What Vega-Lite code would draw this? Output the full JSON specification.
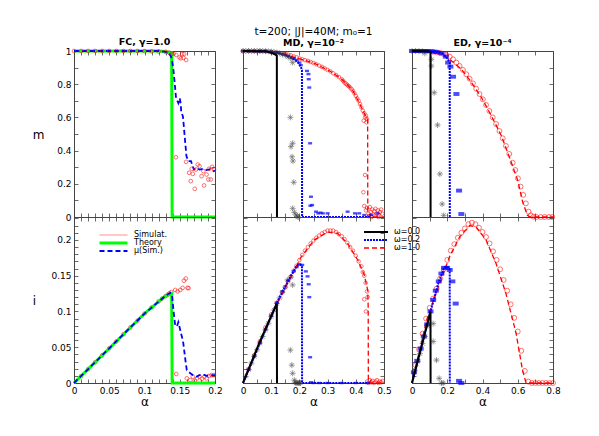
{
"$schema":"https://vega.github.io/schema/vega-lite/v6.json",
"padding":{"left":31,"top":26,"right":5,"bottom":5},
"bounds":"flush",
"columns":3,
"spacing":{"row":0,"column":28},
"resolve":{"scale":{"color":"independent","strokeDash":"independent","strokeWidth":"independent"},"legend":{"color":"independent","strokeDash":"independent","strokeWidth":"independent"}},
"concat":[
 {"width":141,"height":166,
  "title":{"text":"FC, γ=1.0","fontSize":9.5,"fontWeight":"bold","offset":-1},
  "layer":[
   {"data":{"name":"fcmG"},"mark":{"type":"line","color":"#00ff00","strokeWidth":3},
    "encoding":{"x":{"field":"a","type":"quantitative","scale":{"domain":[0,0.2],"nice":false,"zero":false},"axis":{"orient":"bottom","values":[0,0.01,0.02,0.03,0.04,0.05,0.06,0.07,0.08,0.09,0.1,0.11,0.12,0.13,0.14,0.15,0.16,0.17,0.18,0.19,0.2],"labels":false,"title":null,"tickSize":-4}},
     "y":{"field":"v","type":"quantitative","scale":{"domain":[0,1],"nice":false},"axis":{"orient":"left","values":[0,0.1,0.2,0.3,0.4,0.5,0.6,0.7,0.8,0.9,1],"labelExpr":"abs(datum.value*5-round(datum.value*5))<0.001 ? format(datum.value,'~g') : ''","title":"m","tickSize":-4,"labelPadding":7,"labelFlush":false,"labelOverlap":false,"titleAngle":0,"titleX":-36,"titleY":83,"titleAlign":"center","titleBaseline":"middle"}}}},
   {"data":{"name":"fcmB"},"mark":{"type":"line","color":"#0000ff","strokeWidth":1.8,"strokeDash":[5,3]},
    "encoding":{"x":{"field":"a","type":"quantitative","scale":{"domain":[0,0.2],"nice":false,"zero":false},"axis":{"orient":"top","values":[0,0.01,0.02,0.03,0.04,0.05,0.06,0.07,0.08,0.09,0.1,0.11,0.12,0.13,0.14,0.15,0.16,0.17,0.18,0.19,0.2],"labels":false,"title":null,"tickSize":-4}},
     "y":{"field":"v","type":"quantitative","scale":{"domain":[0,1],"nice":false},"axis":{"orient":"right","values":[0,0.1,0.2,0.3,0.4,0.5,0.6,0.7,0.8,0.9,1],"labels":false,"title":null,"tickSize":-4}}}},
   {"data":{"name":"fcmR"},"mark":{"type":"point","shape":"circle","filled":false,"color":"#ff0000","size":14,"strokeWidth":0.8},
    "encoding":{"x":{"field":"a","type":"quantitative","scale":{"domain":[0,0.2],"nice":false,"zero":false},"axis":null},
     "y":{"field":"v","type":"quantitative","scale":{"domain":[0,1],"nice":false},"axis":null}}}
  ],
  "resolve":{"axis":{"x":"independent","y":"independent"}}},
 {"width":141,"height":166,
  "title":{"text":"t=200; |J|=40M; m₀=1","subtitle":"MD, γ=10⁻²","fontSize":10.5,"fontWeight":"normal","subtitleFontSize":9.5,"subtitleFontWeight":"bold","subtitleColor":"#000","subtitleFont":"DejaVu Sans","subtitlePadding":1,"offset":-1},
  "layer":[
   {"data":{"name":"mdmR"},"mark":{"type":"point","shape":"circle","filled":false,"color":"#ff0000","size":13,"strokeWidth":0.8},
    "encoding":{"x":{"field":"a","type":"quantitative","scale":{"domain":[0,0.5],"nice":false,"zero":false},"axis":{"orient":"bottom","values":[0,0.05,0.1,0.15,0.2,0.25,0.3,0.35,0.4,0.45,0.5],"labels":false,"title":null,"tickSize":-4}},
     "y":{"field":"v","type":"quantitative","scale":{"domain":[0,1],"nice":false},"axis":{"orient":"left","values":[0,0.1,0.2,0.3,0.4,0.5,0.6,0.7,0.8,0.9,1],"labels":false,"title":null,"tickSize":-4}}}},
   {"data":{"name":"mdmRL"},"mark":{"type":"line","color":"#ff0000","strokeWidth":1.3,"strokeDash":[5,3]},
    "encoding":{"x":{"field":"a","type":"quantitative","scale":{"domain":[0,0.5],"nice":false,"zero":false},"axis":{"orient":"top","values":[0,0.05,0.1,0.15,0.2,0.25,0.3,0.35,0.4,0.45,0.5],"labels":false,"title":null,"tickSize":-4}},
     "y":{"field":"v","type":"quantitative","scale":{"domain":[0,1],"nice":false},"axis":{"orient":"right","values":[0,0.1,0.2,0.3,0.4,0.5,0.6,0.7,0.8,0.9,1],"labels":false,"title":null,"tickSize":-4}}}},
   {"data":{"name":"mdmBL"},"mark":{"type":"line","color":"#0000ff","strokeWidth":2,"strokeDash":[2,1]},
    "encoding":{"x":{"field":"a","type":"quantitative","scale":{"domain":[0,0.5],"nice":false,"zero":false},"axis":null},"y":{"field":"v","type":"quantitative","scale":{"domain":[0,1],"nice":false},"axis":null}}},
   {"data":{"name":"mdmBS"},"mark":{"type":"point","shape":"M-1,-0.6H1V0.6H-1Z","filled":true,"color":"#0000ff","size":16},
    "encoding":{"x":{"field":"a","type":"quantitative","scale":{"domain":[0,0.5],"nice":false,"zero":false},"axis":null},"y":{"field":"v","type":"quantitative","scale":{"domain":[0,1],"nice":false},"axis":null}}},
   {"data":{"name":"mdmK"},"mark":{"type":"point","shape":"M-1,0H1M0,-1V1M-0.7,-0.7L0.7,0.7M-0.7,0.7L0.7,-0.7","filled":false,"color":"#333333","size":36,"strokeWidth":0.7},
    "encoding":{"x":{"field":"a","type":"quantitative","scale":{"domain":[0,0.5],"nice":false,"zero":false},"axis":null},"y":{"field":"v","type":"quantitative","scale":{"domain":[0,1],"nice":false},"axis":null}}},
   {"data":{"name":"mdmKL"},"mark":{"type":"line","color":"#000000","strokeWidth":2},
    "encoding":{"x":{"field":"a","type":"quantitative","scale":{"domain":[0,0.5],"nice":false,"zero":false},"axis":null},"y":{"field":"v","type":"quantitative","scale":{"domain":[0,1],"nice":false},"axis":null}}}
  ],
  "resolve":{"axis":{"x":"independent","y":"independent"}}},
 {"width":141,"height":166,
  "title":{"text":"ED, γ=10⁻⁴","fontSize":9.5,"fontWeight":"bold","offset":-1},
  "layer":[
   {"data":{"name":"edmR"},"mark":{"type":"point","shape":"circle","filled":false,"color":"#ff0000","size":24,"strokeWidth":0.8},
    "encoding":{"x":{"field":"a","type":"quantitative","scale":{"domain":[0,0.8],"nice":false,"zero":false},"axis":{"orient":"bottom","values":[0,0.1,0.2,0.3,0.4,0.5,0.6,0.7,0.8],"labels":false,"title":null,"tickSize":-4}},
     "y":{"field":"v","type":"quantitative","scale":{"domain":[0,1],"nice":false},"axis":{"orient":"left","values":[0,0.1,0.2,0.3,0.4,0.5,0.6,0.7,0.8,0.9,1],"labels":false,"title":null,"tickSize":-4}}}},
   {"data":{"name":"edmRL"},"mark":{"type":"line","color":"#ff0000","strokeWidth":1.3,"strokeDash":[5,3]},
    "encoding":{"x":{"field":"a","type":"quantitative","scale":{"domain":[0,0.8],"nice":false,"zero":false},"axis":{"orient":"top","values":[0,0.1,0.2,0.3,0.4,0.5,0.6,0.7,0.8],"labels":false,"title":null,"tickSize":-4}},
     "y":{"field":"v","type":"quantitative","scale":{"domain":[0,1],"nice":false},"axis":{"orient":"right","values":[0,0.1,0.2,0.3,0.4,0.5,0.6,0.7,0.8,0.9,1],"labels":false,"title":null,"tickSize":-4}}}},
   {"data":{"name":"edmBL"},"mark":{"type":"line","color":"#0000ff","strokeWidth":2,"strokeDash":[2,1]},
    "encoding":{"x":{"field":"a","type":"quantitative","scale":{"domain":[0,0.8],"nice":false,"zero":false},"axis":null},"y":{"field":"v","type":"quantitative","scale":{"domain":[0,1],"nice":false},"axis":null}}},
   {"data":{"name":"edmBS"},"mark":{"type":"point","shape":"M-1,-0.65H1V0.65H-1Z","filled":true,"color":"#0000ff","size":36},
    "encoding":{"x":{"field":"a","type":"quantitative","scale":{"domain":[0,0.8],"nice":false,"zero":false},"axis":null},"y":{"field":"v","type":"quantitative","scale":{"domain":[0,1],"nice":false},"axis":null}}},
   {"data":{"name":"edmK"},"mark":{"type":"point","shape":"M-1,0H1M0,-1V1M-0.7,-0.7L0.7,0.7M-0.7,0.7L0.7,-0.7","filled":false,"color":"#333333","size":36,"strokeWidth":0.7},
    "encoding":{"x":{"field":"a","type":"quantitative","scale":{"domain":[0,0.8],"nice":false,"zero":false},"axis":null},"y":{"field":"v","type":"quantitative","scale":{"domain":[0,1],"nice":false},"axis":null}}},
   {"data":{"name":"edmKL"},"mark":{"type":"line","color":"#000000","strokeWidth":2},
    "encoding":{"x":{"field":"a","type":"quantitative","scale":{"domain":[0,0.8],"nice":false,"zero":false},"axis":null},"y":{"field":"v","type":"quantitative","scale":{"domain":[0,1],"nice":false},"axis":null}}}
  ],
  "resolve":{"axis":{"x":"independent","y":"independent"}}},
 {"width":141,"height":166,
  "layer":[
   {"data":{"name":"fciR"},"mark":{"type":"point","shape":"circle","filled":false,"color":"#ff0000","size":14,"strokeWidth":0.8},
    "encoding":{"x":{"field":"a","type":"quantitative","scale":{"domain":[0,0.2],"nice":false,"zero":false},"axis":{"orient":"bottom","values":[0,0.01,0.02,0.03,0.04,0.05,0.06,0.07,0.08,0.09,0.1,0.11,0.12,0.13,0.14,0.15,0.16,0.17,0.18,0.19,0.2],"labelExpr":"abs(datum.value*20-round(datum.value*20))<0.001 ? format(datum.value,'~g') : ''","title":"α","tickSize":-4,"labelPadding":7,"labelFlush":false,"labelOverlap":false,"titlePadding":1}},
     "y":{"field":"v","type":"quantitative","scale":{"domain":[0,0.232],"nice":false},"axis":{"orient":"left","values":[0,0.01,0.02,0.03,0.04,0.05,0.06,0.07,0.08,0.09,0.1,0.11,0.12,0.13,0.14,0.15,0.16,0.17,0.18,0.19,0.2,0.21,0.22,0.23],"labelExpr":"abs(datum.value*20-round(datum.value*20))<0.001 ? format(datum.value,'~g') : ''","title":"i","tickSize":-4,"labelPadding":7,"labelFlush":false,"labelOverlap":false,"titleAngle":0,"titleX":-40,"titleY":83,"titleAlign":"center","titleBaseline":"middle"}}}},
   {"data":{"name":"fciL"},"mark":{"type":"line"},
    "encoding":{"x":{"field":"a","type":"quantitative","scale":{"domain":[0,0.2],"nice":false,"zero":false},"axis":{"orient":"top","values":[0,0.01,0.02,0.03,0.04,0.05,0.06,0.07,0.08,0.09,0.1,0.11,0.12,0.13,0.14,0.15,0.16,0.17,0.18,0.19,0.2],"labels":false,"title":null,"tickSize":-4}},
     "y":{"field":"v","type":"quantitative","scale":{"domain":[0,0.232],"nice":false},"axis":{"orient":"right","values":[0,0.01,0.02,0.03,0.04,0.05,0.06,0.07,0.08,0.09,0.1,0.11,0.12,0.13,0.14,0.15,0.16,0.17,0.18,0.19,0.2,0.21,0.22,0.23],"labels":false,"title":null,"tickSize":-4}},
     "color":{"field":"s","type":"nominal","scale":{"domain":["Simulat.","Theory","μ(Sim.)"],"range":["#ff6666","#00ff00","#0000ff"]},"legend":{"orient":"none","legendX":24,"legendY":14,"title":null,"symbolType":"stroke","symbolSize":784,"clipHeight":8,"rowPadding":0,"labelFontSize":8,"labelOffset":5}},
     "strokeDash":{"field":"s","type":"nominal","scale":{"domain":["Simulat.","Theory","μ(Sim.)"],"range":[[1,0],[1,0],[5,3]]},"legend":{"orient":"none","legendX":24,"legendY":14,"title":null,"symbolType":"stroke","symbolSize":784,"clipHeight":8,"rowPadding":0,"labelFontSize":8,"labelOffset":5}},
     "strokeWidth":{"field":"s","type":"nominal","scale":{"type":"ordinal","domain":["Simulat.","Theory","μ(Sim.)"],"range":[0.8,3,1.8]},"legend":{"orient":"none","legendX":24,"legendY":14,"title":null,"symbolType":"stroke","symbolSize":784,"clipHeight":8,"rowPadding":0,"labelFontSize":8,"labelOffset":5}}}}
  ],
  "resolve":{"axis":{"x":"independent","y":"independent"}}},
 {"width":141,"height":166,
  "layer":[
   {"data":{"name":"mdiR"},"mark":{"type":"point","shape":"circle","filled":false,"color":"#ff0000","size":13,"strokeWidth":0.8},
    "encoding":{"x":{"field":"a","type":"quantitative","scale":{"domain":[0,0.5],"nice":false,"zero":false},"axis":{"orient":"bottom","values":[0,0.05,0.1,0.15,0.2,0.25,0.3,0.35,0.4,0.45,0.5],"labelExpr":"abs(datum.value*10-round(datum.value*10))<0.001 ? format(datum.value,'~g') : ''","title":"α","tickSize":-4,"labelPadding":7,"labelFlush":false,"labelOverlap":false,"titlePadding":1}},
     "y":{"field":"v","type":"quantitative","scale":{"domain":[0,0.232],"nice":false},"axis":{"orient":"left","values":[0,0.01,0.02,0.03,0.04,0.05,0.06,0.07,0.08,0.09,0.1,0.11,0.12,0.13,0.14,0.15,0.16,0.17,0.18,0.19,0.2,0.21,0.22,0.23],"labels":false,"title":null,"tickSize":-4}}}},
   {"data":{"name":"mdiBS"},"mark":{"type":"point","shape":"M-1,-0.6H1V0.6H-1Z","filled":true,"color":"#0000ff","size":16},
    "encoding":{"x":{"field":"a","type":"quantitative","scale":{"domain":[0,0.5],"nice":false,"zero":false},"axis":{"orient":"top","values":[0,0.05,0.1,0.15,0.2,0.25,0.3,0.35,0.4,0.45,0.5],"labels":false,"title":null,"tickSize":-4}},
     "y":{"field":"v","type":"quantitative","scale":{"domain":[0,0.232],"nice":false},"axis":{"orient":"right","values":[0,0.01,0.02,0.03,0.04,0.05,0.06,0.07,0.08,0.09,0.1,0.11,0.12,0.13,0.14,0.15,0.16,0.17,0.18,0.19,0.2,0.21,0.22,0.23],"labels":false,"title":null,"tickSize":-4}}}},
   {"data":{"name":"mdiK"},"mark":{"type":"point","shape":"M-1,0H1M0,-1V1M-0.7,-0.7L0.7,0.7M-0.7,0.7L0.7,-0.7","filled":false,"color":"#333333","size":36,"strokeWidth":0.7},
    "encoding":{"x":{"field":"a","type":"quantitative","scale":{"domain":[0,0.5],"nice":false,"zero":false},"axis":null},"y":{"field":"v","type":"quantitative","scale":{"domain":[0,0.232],"nice":false},"axis":null}}},
   {"data":{"name":"mdiL"},"mark":{"type":"line"},
    "encoding":{"x":{"field":"a","type":"quantitative","scale":{"domain":[0,0.5],"nice":false,"zero":false},"axis":null},"y":{"field":"v","type":"quantitative","scale":{"domain":[0,0.232],"nice":false},"axis":null},
     "color":{"field":"w","type":"nominal","scale":{"domain":["ω=0.0","ω=0.2","ω=1.0"],"range":["#000000","#0000ff","#ff0000"]},"legend":{"orient":"none","legendX":120,"legendY":11,"title":null,"symbolType":"stroke","symbolSize":576,"clipHeight":8,"rowPadding":0,"labelFontSize":8,"labelOffset":5}},
     "strokeDash":{"field":"w","type":"nominal","scale":{"domain":["ω=0.0","ω=0.2","ω=1.0"],"range":[[1,0],[2,1],[5,3]]},"legend":{"orient":"none","legendX":120,"legendY":11,"title":null,"symbolType":"stroke","symbolSize":576,"clipHeight":8,"rowPadding":0,"labelFontSize":8,"labelOffset":5}},
     "strokeWidth":{"field":"w","type":"nominal","scale":{"type":"ordinal","domain":["ω=0.0","ω=0.2","ω=1.0"],"range":[2,2,1.3]},"legend":{"orient":"none","legendX":120,"legendY":11,"title":null,"symbolType":"stroke","symbolSize":576,"clipHeight":8,"rowPadding":0,"labelFontSize":8,"labelOffset":5}}}}
  ],
  "resolve":{"axis":{"x":"independent","y":"independent"}}},
 {"width":141,"height":166,
  "layer":[
   {"data":{"name":"ediR"},"mark":{"type":"point","shape":"circle","filled":false,"color":"#ff0000","size":24,"strokeWidth":0.8},
    "encoding":{"x":{"field":"a","type":"quantitative","scale":{"domain":[0,0.8],"nice":false,"zero":false},"axis":{"orient":"bottom","values":[0,0.1,0.2,0.3,0.4,0.5,0.6,0.7,0.8],"labelExpr":"abs(datum.value*5-round(datum.value*5))<0.001 ? format(datum.value,'~g') : ''","title":"α","tickSize":-4,"labelPadding":7,"labelFlush":false,"labelOverlap":false,"titlePadding":1}},
     "y":{"field":"v","type":"quantitative","scale":{"domain":[0,0.232],"nice":false},"axis":{"orient":"left","values":[0,0.01,0.02,0.03,0.04,0.05,0.06,0.07,0.08,0.09,0.1,0.11,0.12,0.13,0.14,0.15,0.16,0.17,0.18,0.19,0.2,0.21,0.22,0.23],"labels":false,"title":null,"tickSize":-4}}}},
   {"data":{"name":"ediRL"},"mark":{"type":"line","color":"#ff0000","strokeWidth":1.3,"strokeDash":[5,3]},
    "encoding":{"x":{"field":"a","type":"quantitative","scale":{"domain":[0,0.8],"nice":false,"zero":false},"axis":{"orient":"top","values":[0,0.1,0.2,0.3,0.4,0.5,0.6,0.7,0.8],"labels":false,"title":null,"tickSize":-4}},
     "y":{"field":"v","type":"quantitative","scale":{"domain":[0,0.232],"nice":false},"axis":{"orient":"right","values":[0,0.01,0.02,0.03,0.04,0.05,0.06,0.07,0.08,0.09,0.1,0.11,0.12,0.13,0.14,0.15,0.16,0.17,0.18,0.19,0.2,0.21,0.22,0.23],"labels":false,"title":null,"tickSize":-4}}}},
   {"data":{"name":"ediBL"},"mark":{"type":"line","color":"#0000ff","strokeWidth":2,"strokeDash":[2,1]},
    "encoding":{"x":{"field":"a","type":"quantitative","scale":{"domain":[0,0.8],"nice":false,"zero":false},"axis":null},"y":{"field":"v","type":"quantitative","scale":{"domain":[0,0.232],"nice":false},"axis":null}}},
   {"data":{"name":"ediBS"},"mark":{"type":"point","shape":"M-1,-0.65H1V0.65H-1Z","filled":true,"color":"#0000ff","size":36},
    "encoding":{"x":{"field":"a","type":"quantitative","scale":{"domain":[0,0.8],"nice":false,"zero":false},"axis":null},"y":{"field":"v","type":"quantitative","scale":{"domain":[0,0.232],"nice":false},"axis":null}}},
   {"data":{"name":"ediK"},"mark":{"type":"point","shape":"M-1,0H1M0,-1V1M-0.7,-0.7L0.7,0.7M-0.7,0.7L0.7,-0.7","filled":false,"color":"#333333","size":36,"strokeWidth":0.7},
    "encoding":{"x":{"field":"a","type":"quantitative","scale":{"domain":[0,0.8],"nice":false,"zero":false},"axis":null},"y":{"field":"v","type":"quantitative","scale":{"domain":[0,0.232],"nice":false},"axis":null}}},
   {"data":{"name":"ediKL"},"mark":{"type":"line","color":"#000000","strokeWidth":2},
    "encoding":{"x":{"field":"a","type":"quantitative","scale":{"domain":[0,0.8],"nice":false,"zero":false},"axis":null},"y":{"field":"v","type":"quantitative","scale":{"domain":[0,0.232],"nice":false},"axis":null}}}
  ],
  "resolve":{"axis":{"x":"independent","y":"independent"}}}
],
"datasets":{
"fcmG":[{"a":0,"v":1},{"a":0.12,"v":1},{"a":0.13,"v":0.996},{"a":0.1385,"v":0.99},{"a":0.1392,"v":0},{"a":0.2,"v":0}],
"fcmB":[{"a":0,"v":1},{"a":0.12,"v":1},{"a":0.13,"v":0.995},{"a":0.134,"v":0.99},{"a":0.137,"v":0.97},{"a":0.139,"v":0.95},{"a":0.141,"v":0.886},{"a":0.143,"v":0.8},{"a":0.1445,"v":0.726},{"a":0.146,"v":0.706},{"a":0.148,"v":0.686},{"a":0.15,"v":0.716},{"a":0.1515,"v":0.68},{"a":0.152,"v":0.636},{"a":0.1545,"v":0.606},{"a":0.1555,"v":0.56},{"a":0.157,"v":0.486},{"a":0.1595,"v":0.366},{"a":0.1625,"v":0.336},{"a":0.166,"v":0.336},{"a":0.168,"v":0.31},{"a":0.17,"v":0.286},{"a":0.174,"v":0.296},{"a":0.178,"v":0.286},{"a":0.183,"v":0.29},{"a":0.188,"v":0.283},{"a":0.193,"v":0.288},{"a":0.198,"v":0.276},{"a":0.2,"v":0.28}],
"fcmR":[{"a":0,"v":1},{"a":0.01,"v":1},{"a":0.02,"v":1},{"a":0.03,"v":1},{"a":0.04,"v":1},{"a":0.05,"v":1},{"a":0.06,"v":1},{"a":0.07,"v":1},{"a":0.08,"v":1},{"a":0.09,"v":1},{"a":0.1,"v":0.999},{"a":0.11,"v":0.998},{"a":0.12,"v":0.997},{"a":0.13,"v":0.995},{"a":0.135,"v":0.99},{"a":0.1412,"v":0.982},{"a":0.145,"v":0.976},{"a":0.1496,"v":0.962},{"a":0.1515,"v":0.956},{"a":0.1534,"v":0.982},{"a":0.1553,"v":0.958},{"a":0.1562,"v":0.982},{"a":0.159,"v":0.946},{"a":0.1445,"v":0.36},{"a":0.159,"v":0.332},{"a":0.1633,"v":0.266},{"a":0.1656,"v":0.216},{"a":0.1713,"v":0.17},{"a":0.1685,"v":0.26},{"a":0.1755,"v":0.316},{"a":0.178,"v":0.306},{"a":0.181,"v":0.246},{"a":0.1845,"v":0.19},{"a":0.188,"v":0.256},{"a":0.1906,"v":0.226},{"a":0.194,"v":0.226},{"a":0.1958,"v":0.302},{"a":0.1986,"v":0.286},{"a":0.167,"v":0.29},{"a":0.173,"v":0.286},{"a":0.1835,"v":0.276},{"a":0.1915,"v":0.29}],
"fciR":[{"a":0.01,"v":0.0097},{"a":0.02,"v":0.0194},{"a":0.03,"v":0.029},{"a":0.04,"v":0.0388},{"a":0.05,"v":0.0485},{"a":0.06,"v":0.058},{"a":0.07,"v":0.068},{"a":0.08,"v":0.0776},{"a":0.09,"v":0.087},{"a":0.1,"v":0.097},{"a":0.11,"v":0.1055},{"a":0.12,"v":0.114},{"a":0.125,"v":0.118},{"a":0.13,"v":0.1215},{"a":0.133,"v":0.1235},{"a":0.1355,"v":0.1255},{"a":0.138,"v":0.127},{"a":0.1435,"v":0.13},{"a":0.147,"v":0.128},{"a":0.1506,"v":0.13},{"a":0.154,"v":0.133},{"a":0.156,"v":0.143},{"a":0.1586,"v":0.146},{"a":0.161,"v":0.133},{"a":0.1625,"v":0.1325},{"a":0.145,"v":0.0126},{"a":0.16,"v":0.0065},{"a":0.165,"v":0.004},{"a":0.1685,"v":0.0088},{"a":0.1713,"v":0.0033},{"a":0.1746,"v":0.0065},{"a":0.178,"v":0.0088},{"a":0.1816,"v":0.006},{"a":0.185,"v":0.0088},{"a":0.188,"v":0.0065},{"a":0.1915,"v":0.0098},{"a":0.195,"v":0.011},{"a":0.1985,"v":0.011}],
"fciL":[{"s":"Theory","a":0,"v":0},{"s":"Theory","a":0.05,"v":0.0485},{"s":"Theory","a":0.1,"v":0.097},{"s":"Theory","a":0.13,"v":0.122},{"s":"Theory","a":0.1385,"v":0.1245},{"s":"Theory","a":0.1392,"v":0},{"s":"Theory","a":0.2,"v":0},
{"s":"μ(Sim.)","a":0,"v":0},{"s":"μ(Sim.)","a":0.05,"v":0.0485},{"s":"μ(Sim.)","a":0.1,"v":0.097},{"s":"μ(Sim.)","a":0.13,"v":0.122},{"s":"μ(Sim.)","a":0.1365,"v":0.126},{"s":"μ(Sim.)","a":0.139,"v":0.124},{"s":"μ(Sim.)","a":0.141,"v":0.102},{"s":"μ(Sim.)","a":0.1435,"v":0.081},{"s":"μ(Sim.)","a":0.146,"v":0.079},{"s":"μ(Sim.)","a":0.148,"v":0.085},{"s":"μ(Sim.)","a":0.15,"v":0.077},{"s":"μ(Sim.)","a":0.1515,"v":0.07},{"s":"μ(Sim.)","a":0.153,"v":0.065},{"s":"μ(Sim.)","a":0.155,"v":0.056},{"s":"μ(Sim.)","a":0.158,"v":0.032},{"s":"μ(Sim.)","a":0.16,"v":0.018},{"s":"μ(Sim.)","a":0.165,"v":0.0136},{"s":"μ(Sim.)","a":0.169,"v":0.011},{"s":"μ(Sim.)","a":0.174,"v":0.009},{"s":"μ(Sim.)","a":0.178,"v":0.011},{"s":"μ(Sim.)","a":0.183,"v":0.012},{"s":"μ(Sim.)","a":0.188,"v":0.01},{"s":"μ(Sim.)","a":0.193,"v":0.011},{"s":"μ(Sim.)","a":0.198,"v":0.011},{"s":"μ(Sim.)","a":0.2,"v":0.011}],
"mdmKL":[{"a":0,"v":1},{"a":0.08,"v":0.998},{"a":0.1,"v":0.99},{"a":0.115,"v":0.978},{"a":0.12,"v":0.972},{"a":0.1205,"v":0}],
"mdmK":[{"a":0,"v":1},{"a":0.01,"v":1},{"a":0.02,"v":1},{"a":0.03,"v":1},{"a":0.04,"v":1},{"a":0.05,"v":1},{"a":0.06,"v":1},{"a":0.07,"v":1},{"a":0.08,"v":0.999},{"a":0.09,"v":0.998},{"a":0.1,"v":0.996},{"a":0.11,"v":0.994},{"a":0.12,"v":0.99},{"a":0.13,"v":0.986},{"a":0.14,"v":0.98},{"a":0.15,"v":0.974},{"a":0.16,"v":0.965},{"a":0.17,"v":0.955},{"a":0.176,"v":0.93},{"a":0.168,"v":0.6},{"a":0.176,"v":0.444},{"a":0.17,"v":0.424},{"a":0.174,"v":0.363},{"a":0.177,"v":0.337},{"a":0.18,"v":0.209},{"a":0.176,"v":0.052},{"a":0.182,"v":0.028},{"a":0.188,"v":0.012},{"a":0.192,"v":0.004},{"a":0.196,"v":0}],
"mdmBL":[{"a":0,"v":1},{"a":0.1,"v":0.995},{"a":0.12,"v":0.99},{"a":0.15,"v":0.975},{"a":0.18,"v":0.952},{"a":0.195,"v":0.932},{"a":0.205,"v":0.905},{"a":0.209,"v":0.885},{"a":0.2095,"v":0},{"a":0.45,"v":0}],
"mdmBS":[{"a":0,"v":1},{"a":0.02,"v":1},{"a":0.04,"v":1},{"a":0.06,"v":1},{"a":0.08,"v":1},{"a":0.1,"v":0.996},{"a":0.12,"v":0.99},{"a":0.14,"v":0.982},{"a":0.16,"v":0.97},{"a":0.18,"v":0.955},{"a":0.19,"v":0.944},{"a":0.2,"v":0.93},{"a":0.205,"v":0.915},{"a":0.227,"v":0.88},{"a":0.232,"v":0.861},{"a":0.233,"v":0.83},{"a":0.235,"v":0.78},{"a":0.238,"v":0.444},{"a":0.241,"v":0.122},{"a":0.239,"v":0.068},{"a":0.245,"v":0.072},{"a":0.259,"v":0.032},{"a":0.267,"v":0.022},{"a":0.275,"v":0.026},{"a":0.283,"v":0.022},{"a":0.3,"v":0.022},{"a":0.371,"v":0.032},{"a":0.397,"v":0.022},{"a":0.412,"v":0.022},{"a":0.43,"v":0.012},{"a":0.454,"v":0.012},{"a":0.478,"v":0.022}],
"mdmRL":[{"a":0,"v":1},{"a":0.1,"v":0.993},{"a":0.135,"v":0.986},{"a":0.194,"v":0.956},{"a":0.253,"v":0.926},{"a":0.312,"v":0.875},{"a":0.35,"v":0.83},{"a":0.371,"v":0.795},{"a":0.39,"v":0.76},{"a":0.407,"v":0.705},{"a":0.42,"v":0.66},{"a":0.43,"v":0.624},{"a":0.442,"v":0.588},{"a":0.4425,"v":0},{"a":0.5,"v":0}],
"mdmR":[{"a":0,"v":1},{"a":0.02,"v":1},{"a":0.04,"v":1},{"a":0.06,"v":1},{"a":0.08,"v":0.998},{"a":0.1,"v":0.995},{"a":0.12,"v":0.99},{"a":0.14,"v":0.985},{"a":0.15,"v":0.983},{"a":0.16,"v":0.978},{"a":0.17,"v":0.974},{"a":0.18,"v":0.967},{"a":0.19,"v":0.962},{"a":0.2,"v":0.955},{"a":0.21,"v":0.95},{"a":0.22,"v":0.945},{"a":0.23,"v":0.94},{"a":0.24,"v":0.934},{"a":0.25,"v":0.928},{"a":0.26,"v":0.92},{"a":0.27,"v":0.912},{"a":0.28,"v":0.904},{"a":0.29,"v":0.895},{"a":0.3,"v":0.886},{"a":0.31,"v":0.877},{"a":0.32,"v":0.866},{"a":0.33,"v":0.855},{"a":0.34,"v":0.843},{"a":0.35,"v":0.83},{"a":0.355,"v":0.82},{"a":0.36,"v":0.81},{"a":0.365,"v":0.803},{"a":0.37,"v":0.795},{"a":0.375,"v":0.788},{"a":0.38,"v":0.78},{"a":0.385,"v":0.77},{"a":0.39,"v":0.76},{"a":0.395,"v":0.745},{"a":0.4,"v":0.73},{"a":0.405,"v":0.715},{"a":0.41,"v":0.7},{"a":0.415,"v":0.68},{"a":0.42,"v":0.66},{"a":0.425,"v":0.64},{"a":0.43,"v":0.625},{"a":0.433,"v":0.6},{"a":0.436,"v":0.61},{"a":0.44,"v":0.59},{"a":0.438,"v":0.57},{"a":0.428,"v":0.58},{"a":0.433,"v":0.253},{"a":0.427,"v":0.149},{"a":0.43,"v":0.066},{"a":0.436,"v":0.04},{"a":0.44,"v":0.055},{"a":0.445,"v":0.02},{"a":0.45,"v":0.06},{"a":0.453,"v":0.03},{"a":0.458,"v":0.045},{"a":0.462,"v":0.015},{"a":0.466,"v":0.035},{"a":0.47,"v":0.05},{"a":0.474,"v":0.02},{"a":0.478,"v":0.04},{"a":0.482,"v":0.01},{"a":0.486,"v":0.03},{"a":0.49,"v":0.045},{"a":0.494,"v":0.02},{"a":0.447,"v":0.005},{"a":0.456,"v":0},{"a":0.468,"v":0.008},{"a":0.48,"v":0}],
"mdiK":[{"a":0.01,"v":0.0093},{"a":0.02,"v":0.0186},{"a":0.03,"v":0.0279},{"a":0.04,"v":0.0372},{"a":0.05,"v":0.0465},{"a":0.06,"v":0.0558},{"a":0.07,"v":0.065},{"a":0.08,"v":0.0743},{"a":0.09,"v":0.0835},{"a":0.1,"v":0.0927},{"a":0.11,"v":0.102},{"a":0.12,"v":0.111},{"a":0.13,"v":0.119},{"a":0.14,"v":0.127},{"a":0.15,"v":0.134},{"a":0.158,"v":0.144},{"a":0.17,"v":0.148},{"a":0.176,"v":0.137},{"a":0.168,"v":0.046},{"a":0.173,"v":0.025},{"a":0.176,"v":0.0135},{"a":0.182,"v":0.004},{"a":0.185,"v":0.001},{"a":0.188,"v":0},{"a":0.192,"v":0},{"a":0.196,"v":0},{"a":0.2,"v":0},{"a":0.204,"v":0}],
"mdiBS":[{"a":0.02,"v":0.0187},{"a":0.04,"v":0.0374},{"a":0.06,"v":0.056},{"a":0.08,"v":0.075},{"a":0.1,"v":0.094},{"a":0.12,"v":0.112},{"a":0.14,"v":0.128},{"a":0.16,"v":0.143},{"a":0.18,"v":0.156},{"a":0.19,"v":0.162},{"a":0.2,"v":0.166},{"a":0.21,"v":0.165},{"a":0.223,"v":0.156},{"a":0.229,"v":0.149},{"a":0.233,"v":0.138},{"a":0.235,"v":0.12},{"a":0.238,"v":0.036},{"a":0.241,"v":0.001},{"a":0.25,"v":0},{"a":0.27,"v":0},{"a":0.3,"v":0},{"a":0.35,"v":0},{"a":0.4,"v":0},{"a":0.44,"v":0}],
"mdiR":[{"a":0.02,"v":0.0195},{"a":0.04,"v":0.039},{"a":0.06,"v":0.0585},{"a":0.08,"v":0.078},{"a":0.1,"v":0.096},{"a":0.12,"v":0.112},{"a":0.14,"v":0.127},{"a":0.15,"v":0.134},{"a":0.16,"v":0.142},{"a":0.17,"v":0.149},{"a":0.18,"v":0.157},{"a":0.19,"v":0.164},{"a":0.2,"v":0.172},{"a":0.21,"v":0.179},{"a":0.22,"v":0.185},{"a":0.23,"v":0.19},{"a":0.24,"v":0.195},{"a":0.25,"v":0.199},{"a":0.26,"v":0.203},{"a":0.27,"v":0.206},{"a":0.28,"v":0.209},{"a":0.29,"v":0.211},{"a":0.3,"v":0.213},{"a":0.31,"v":0.213},{"a":0.32,"v":0.213},{"a":0.33,"v":0.211},{"a":0.34,"v":0.208},{"a":0.35,"v":0.205},{"a":0.36,"v":0.201},{"a":0.37,"v":0.196},{"a":0.38,"v":0.19},{"a":0.39,"v":0.185},{"a":0.4,"v":0.178},{"a":0.41,"v":0.17},{"a":0.42,"v":0.163},{"a":0.425,"v":0.155},{"a":0.43,"v":0.15},{"a":0.435,"v":0.14},{"a":0.44,"v":0.128},{"a":0.442,"v":0.12},{"a":0.43,"v":0.117},{"a":0.436,"v":0.1},{"a":0.44,"v":0.002},{"a":0.445,"v":0},{"a":0.45,"v":0.004},{"a":0.455,"v":0.001},{"a":0.46,"v":0.003},{"a":0.465,"v":0},{"a":0.47,"v":0.002},{"a":0.475,"v":0.004},{"a":0.48,"v":0},{"a":0.485,"v":0.002},{"a":0.49,"v":0.001},{"a":0.495,"v":0.003}],
"mdiL":[{"w":"ω=1.0","a":0,"v":0},{"w":"ω=1.0","a":0.076,"v":0.074},{"w":"ω=1.0","a":0.12,"v":0.111},{"w":"ω=1.0","a":0.17,"v":0.148},{"w":"ω=1.0","a":0.206,"v":0.176},{"w":"ω=1.0","a":0.253,"v":0.2},{"w":"ω=1.0","a":0.3,"v":0.211},{"w":"ω=1.0","a":0.336,"v":0.209},{"w":"ω=1.0","a":0.371,"v":0.195},{"w":"ω=1.0","a":0.407,"v":0.172},{"w":"ω=1.0","a":0.43,"v":0.151},{"w":"ω=1.0","a":0.442,"v":0.13},{"w":"ω=1.0","a":0.444,"v":0.106},{"w":"ω=1.0","a":0.4445,"v":0},{"w":"ω=1.0","a":0.5,"v":0},
{"w":"ω=0.2","a":0,"v":0},{"w":"ω=0.2","a":0.12,"v":0.112},{"w":"ω=0.2","a":0.15,"v":0.135},{"w":"ω=0.2","a":0.17,"v":0.15},{"w":"ω=0.2","a":0.185,"v":0.16},{"w":"ω=0.2","a":0.195,"v":0.165},{"w":"ω=0.2","a":0.205,"v":0.165},{"w":"ω=0.2","a":0.209,"v":0.163},{"w":"ω=0.2","a":0.2095,"v":0},{"w":"ω=0.2","a":0.45,"v":0},
{"w":"ω=0.0","a":0,"v":0},{"w":"ω=0.0","a":0.06,"v":0.058},{"w":"ω=0.0","a":0.12,"v":0.111},{"w":"ω=0.0","a":0.1205,"v":0}],
"edmKL":[{"a":0,"v":1},{"a":0.09,"v":0.998},{"a":0.105,"v":0.995},{"a":0.1055,"v":0}],
"edmK":[{"a":0,"v":1},{"a":0.02,"v":1},{"a":0.04,"v":1},{"a":0.06,"v":0.998},{"a":0.073,"v":0.986},{"a":0.11,"v":0.95},{"a":0.11,"v":0.91},{"a":0.126,"v":0.749},{"a":0.145,"v":0.554},{"a":0.158,"v":0.259},{"a":0.171,"v":0.078},{"a":0.18,"v":0.01}],
"edmBL":[{"a":0,"v":1},{"a":0.15,"v":0.995},{"a":0.18,"v":0.98},{"a":0.2,"v":0.955},{"a":0.214,"v":0.93},{"a":0.2145,"v":0}],
"edmBS":[{"a":0,"v":1},{"a":0.015,"v":1},{"a":0.03,"v":1},{"a":0.045,"v":1},{"a":0.06,"v":1},{"a":0.075,"v":1},{"a":0.09,"v":1},{"a":0.105,"v":0.998},{"a":0.12,"v":0.996},{"a":0.139,"v":0.994},{"a":0.167,"v":0.986},{"a":0.192,"v":0.966},{"a":0.205,"v":0.93},{"a":0.218,"v":0.906},{"a":0.233,"v":0.845},{"a":0.252,"v":0.741},{"a":0.267,"v":0.159},{"a":0.28,"v":0.018}],
"edmRL":[{"a":0,"v":1},{"a":0.1,"v":0.995},{"a":0.17,"v":0.982},{"a":0.225,"v":0.94},{"a":0.28,"v":0.89},{"a":0.338,"v":0.81},{"a":0.394,"v":0.72},{"a":0.45,"v":0.61},{"a":0.507,"v":0.49},{"a":0.563,"v":0.33},{"a":0.6,"v":0.22},{"a":0.628,"v":0.09},{"a":0.655,"v":0.01},{"a":0.67,"v":0},{"a":0.8,"v":0}],
"edmR":[{"a":0.12,"v":0.995},{"a":0.14,"v":0.992},{"a":0.16,"v":0.988},{"a":0.18,"v":0.982},{"a":0.195,"v":0.976},{"a":0.214,"v":0.966},{"a":0.233,"v":0.95},{"a":0.252,"v":0.93},{"a":0.27,"v":0.91},{"a":0.289,"v":0.886},{"a":0.308,"v":0.86},{"a":0.327,"v":0.833},{"a":0.346,"v":0.805},{"a":0.364,"v":0.773},{"a":0.383,"v":0.741},{"a":0.402,"v":0.709},{"a":0.42,"v":0.675},{"a":0.439,"v":0.639},{"a":0.458,"v":0.6},{"a":0.477,"v":0.56},{"a":0.496,"v":0.518},{"a":0.515,"v":0.474},{"a":0.533,"v":0.428},{"a":0.552,"v":0.38},{"a":0.571,"v":0.327},{"a":0.586,"v":0.283},{"a":0.601,"v":0.233},{"a":0.616,"v":0.183},{"a":0.631,"v":0.133},{"a":0.646,"v":0.082},{"a":0.661,"v":0.032},{"a":0.674,"v":0.01},{"a":0.689,"v":0.002},{"a":0.706,"v":0},{"a":0.73,"v":0},{"a":0.753,"v":0},{"a":0.777,"v":0},{"a":0.796,"v":0}],
"ediKL":[{"a":0,"v":0},{"a":0.105,"v":0.1},{"a":0.1055,"v":0}],
"ediK":[{"a":0.017,"v":0.018},{"a":0.03,"v":0.03},{"a":0.045,"v":0.041},{"a":0.06,"v":0.055},{"a":0.073,"v":0.065},{"a":0.09,"v":0.08},{"a":0.12,"v":0.083},{"a":0.12,"v":0.058},{"a":0.139,"v":0.032},{"a":0.154,"v":0.0065},{"a":0.167,"v":0},{"a":0.177,"v":0}],
"ediBL":[{"a":0,"v":0},{"a":0.105,"v":0.1},{"a":0.15,"v":0.14},{"a":0.18,"v":0.16},{"a":0.2,"v":0.163},{"a":0.214,"v":0.159},{"a":0.2145,"v":0}],
"ediBS":[{"a":0.011,"v":0.015},{"a":0.03,"v":0.031},{"a":0.049,"v":0.048},{"a":0.067,"v":0.065},{"a":0.086,"v":0.082},{"a":0.105,"v":0.1},{"a":0.12,"v":0.116},{"a":0.135,"v":0.129},{"a":0.152,"v":0.142},{"a":0.167,"v":0.153},{"a":0.182,"v":0.161},{"a":0.199,"v":0.161},{"a":0.214,"v":0.158},{"a":0.229,"v":0.142},{"a":0.248,"v":0.111},{"a":0.267,"v":0.003},{"a":0.28,"v":0}],
"ediRL":[{"a":0,"v":0},{"a":0.083,"v":0.088},{"a":0.158,"v":0.14},{"a":0.214,"v":0.177},{"a":0.27,"v":0.204},{"a":0.327,"v":0.22},{"a":0.364,"v":0.218},{"a":0.42,"v":0.2},{"a":0.477,"v":0.167},{"a":0.533,"v":0.125},{"a":0.59,"v":0.07},{"a":0.627,"v":0.018},{"a":0.646,"v":0.001},{"a":0.66,"v":0},{"a":0.8,"v":0}],
"ediR":[{"a":0.02,"v":0.025},{"a":0.04,"v":0.047},{"a":0.06,"v":0.069},{"a":0.08,"v":0.09},{"a":0.1,"v":0.105},{"a":0.12,"v":0.118},{"a":0.14,"v":0.132},{"a":0.16,"v":0.146},{"a":0.18,"v":0.159},{"a":0.2,"v":0.172},{"a":0.22,"v":0.185},{"a":0.24,"v":0.194},{"a":0.26,"v":0.203},{"a":0.28,"v":0.21},{"a":0.3,"v":0.216},{"a":0.32,"v":0.222},{"a":0.34,"v":0.224},{"a":0.36,"v":0.222},{"a":0.38,"v":0.217},{"a":0.4,"v":0.211},{"a":0.42,"v":0.204},{"a":0.44,"v":0.195},{"a":0.46,"v":0.184},{"a":0.48,"v":0.172},{"a":0.5,"v":0.159},{"a":0.52,"v":0.144},{"a":0.54,"v":0.129},{"a":0.56,"v":0.11},{"a":0.58,"v":0.091},{"a":0.6,"v":0.072},{"a":0.62,"v":0.045},{"a":0.64,"v":0.017},{"a":0.66,"v":0.002},{"a":0.68,"v":0},{"a":0.7,"v":0},{"a":0.72,"v":0},{"a":0.74,"v":0},{"a":0.76,"v":0},{"a":0.78,"v":0},{"a":0.8,"v":0}]
},
"config":{
 "view":{"stroke":"#444444","strokeWidth":1},
 "font":"DejaVu Sans",
 "axis":{"domain":false,"grid":false,"tickColor":"#444444","tickWidth":0.8,"labelFont":"DejaVu Sans","labelFontSize":9,"labelColor":"#000000","titleFont":"DejaVu Sans","titleFontSize":12,"titleFontWeight":"normal","titleColor":"#000000"},
 "title":{"font":"DejaVu Sans","color":"#000000"},
 "legend":{"labelFont":"DejaVu Sans","labelColor":"#000000","padding":0}
}
}
